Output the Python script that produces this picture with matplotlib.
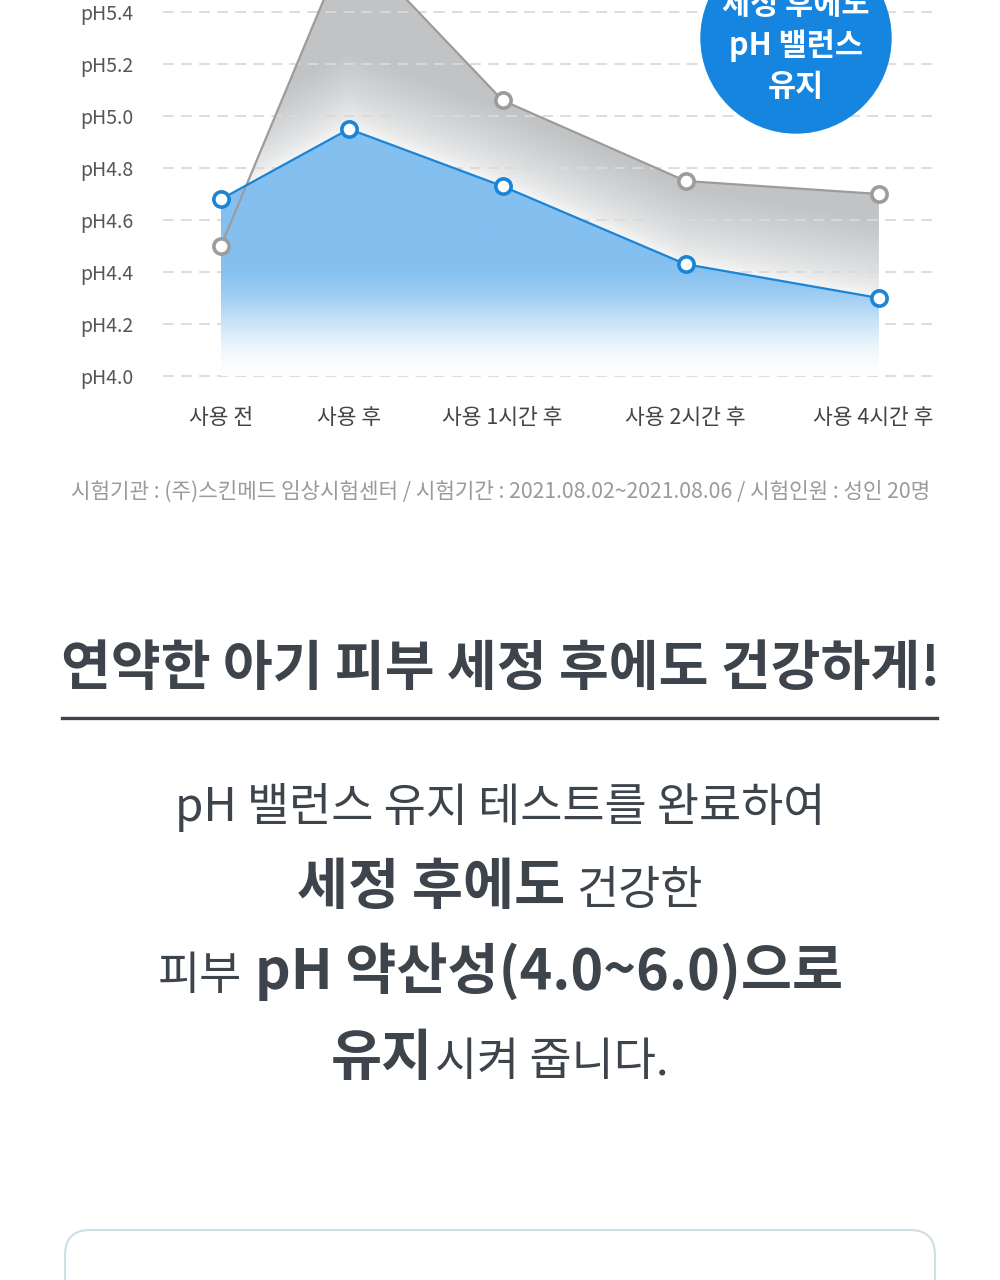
import numpy as np
import matplotlib.pyplot as plt

from matplotlib.colors import to_rgb
from matplotlib.patches import Circle, FancyBboxPatch, Polygon
from matplotlib.transforms import ScaledTranslation

plt.rcParams["font.family"] = ["Noto Sans CJK KR", "DejaVu Sans"]

W, H = 1000, 1280

# chart data
categories = ["사용 전", "사용 후", "사용 1시간 후", "사용 2시간 후", "사용 4시간 후"]
x_pos = [0, 1, 2.2, 3.63, 5.14]
ph_product = [4.68, 4.95, 4.73, 4.43, 4.30]
ph_other = [4.50, 5.68, 5.06, 4.75, 4.70]
y_ticks = [4.0, 4.2, 4.4, 4.6, 4.8, 5.0, 5.2, 5.4]
y_labels = [f"pH{v:.1f}" for v in y_ticks]

badge_lines = ["세정 후에도", "pH 밸런스", "유지"]
footnote = "시험기관 : (주)스킨메드 임상시험센터 / 시험기간 : 2021.08.02~2021.08.06 / 시험인원 : 성인 20명"
headline = "연약한 아기 피부 세정 후에도 건강하게!"
body_lines = [
    [("pH 밸런스 유지 테스트를 완료하여", "normal")],
    [("세정 후에도", "bold"), ("건강한", "normal")],
    [("피부", "normal"), ("pH 약산성(4.0~6.0)으로", "bold")],
    [("유지", "bold"), ("시켜 줍니다.", "normal")],
]

BLUE = "#1a84d6"
GRAY = "#9c9c9c"
TEXT = "#3d444b"


def fy(y_px):
    return 1 - y_px / H


fig = plt.figure(figsize=(W / 100, H / 100), dpi=100)
fig.patch.set_facecolor("white")

ax = fig.add_axes([163 / W, fy(400), (935 - 163) / W, 400 / H])
ax.set_facecolor("none")
x_min, x_max = -58 / 128, (935 - 221) / 128
y_min, y_max = 4.0 - 24 / 260, 4.0 + 376 / 260

# gray area, whitish glow just above the blue line
gx = np.linspace(x_pos[0], x_pos[-1], 400)
gy = np.linspace(4.0, 5.75, 400)
GX, GY = np.meshgrid(gx, gy)
d = GY - np.interp(GX, x_pos, ph_product)
t = np.clip(d / 0.3, 0, 1) ** 0.7
gray_top = np.array(to_rgb("#c1c3c5"))
img = 1 - (0.12 + 0.88 * t)[..., None] * (1 - gray_top)
poly_gray = Polygon(
    [(x_pos[0], 4.0)] + list(zip(x_pos, ph_other)) + [(x_pos[-1], 4.0)],
    closed=True, facecolor="none", edgecolor="none", transform=ax.transData,
)
ax.add_patch(poly_gray)
im = ax.imshow(img, extent=(gx[0], gx[-1], gy[0], gy[-1]), origin="lower",
               aspect="auto", zorder=1, interpolation="bilinear")
im.set_clip_path(poly_gray)

# gridlines
for v in y_ticks:
    ax.axhline(v, color="#dadada", lw=1.3, dashes=(6, 4), zorder=1.5)

# blue area, flat on top and fading out toward pH4.0
tb = np.clip((GY - 4.0) / 0.45, 0, 1)
tb = tb * tb * (3 - 2 * tb)
blue_top = np.array(to_rgb("#7ebdef"))
img_b = 1 - tb[..., None] * (1 - blue_top)
poly_blue = Polygon(
    [(x_pos[0], 4.0)] + list(zip(x_pos, ph_product)) + [(x_pos[-1], 4.0)],
    closed=True, facecolor="none", edgecolor="none", transform=ax.transData,
)
ax.add_patch(poly_blue)
imb = ax.imshow(img_b, extent=(gx[0], gx[-1], gy[0], gy[-1]), origin="lower",
                aspect="auto", zorder=2, interpolation="bilinear", alpha=0.96)
imb.set_clip_path(poly_blue)

ax.plot(x_pos, ph_other, color=GRAY, lw=1.6, marker="o", ms=11,
        mfc="white", mec=GRAY, mew=2.6, zorder=3)
ax.plot(x_pos, ph_product, color=BLUE, lw=1.6, marker="o", ms=11,
        mfc="white", mec=BLUE, mew=2.6, zorder=4)

ax.set_xlim(x_min, x_max)
ax.set_ylim(y_min, y_max)
ax.set_yticks(y_ticks, y_labels)
ax.set_xticks(x_pos, categories)
ax.tick_params(axis="y", length=0, pad=21, labelsize=14, labelcolor="#555555")
ax.tick_params(axis="x", length=0, pad=5, labelsize=15.5, labelcolor="#444444")
# last label sits a bit left of its point so it ends at the grid edge
last = ax.get_xticklabels()[-1]
last.set_transform(last.get_transform() + ScaledTranslation(-0.06, 0, fig.dpi_scale_trans))
for s in ax.spines.values():
    s.set_visible(False)

# badge
badge = Circle((7.96, (H - 38) / 100), 0.95, color="#1685df",
               transform=fig.dpi_scale_trans, zorder=5)
fig.patches.append(badge)
for line, base in zip(badge_lines, [14, 55, 96]):
    fig.text(796 / W, fy(base), line, ha="center", va="baseline",
             fontsize=22, fontweight="bold", color="white", zorder=6)

# footnote and headline
fig.text(501 / W, fy(492), footnote, ha="center", va="center",
         fontsize=15.3, color="#9a9a9a")
fig.text(501 / W, fy(670), headline, ha="center", va="center",
         fontsize=39, fontweight="bold", color=TEXT)
fig.add_artist(plt.Line2D([62 / W, 937 / W], [fy(718), fy(718)],
                          color=TEXT, lw=2.4))

# body text, mixed weights centred on one line
renderer = fig.canvas.get_renderer()
gaps = [0, 11, 13, 2]
for parts, base, gap in zip(body_lines, [821, 904, 989, 1075], gaps):
    texts = []
    for s, w in parts:
        size = 40 if w == "bold" else 33
        texts.append(fig.text(0, fy(base), s, ha="left", va="baseline",
                              fontsize=size, fontweight=w, color=TEXT))
    widths = [tx.get_window_extent(renderer).width for tx in texts]
    x = 500 - (sum(widths) + gap * (len(texts) - 1)) / 2
    for tx, wd in zip(texts, widths):
        tx.set_x(x / W)
        x += wd + gap

# rounded box at the bottom
box = FancyBboxPatch((0.65, -1.0), 8.7, 1.5,
                     boxstyle="round,pad=0,rounding_size=0.25",
                     transform=fig.dpi_scale_trans, facecolor="white",
                     edgecolor="#cfdfe5", lw=1.5)
fig.patches.append(box)

fig.savefig("out.png", dpi=100)
